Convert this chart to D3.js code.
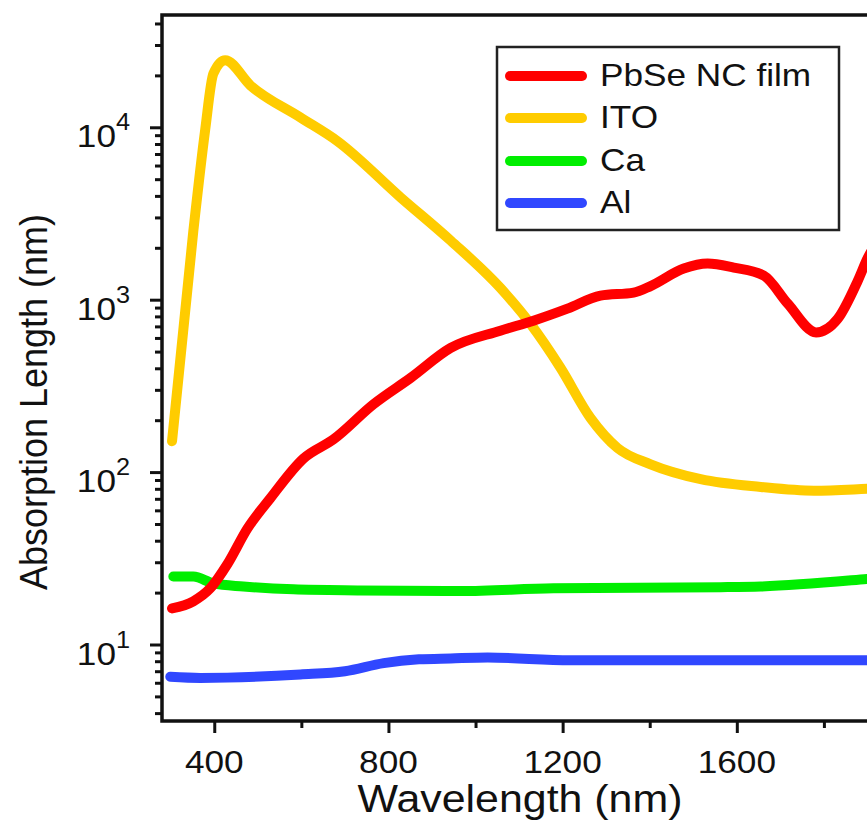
<!DOCTYPE html>
<html><head><meta charset="utf-8">
<script src="https://cdn.jsdelivr.net/npm/d3@7"></script>
<style>
html,body{margin:0;padding:0;background:#fff;overflow:hidden;}
text{font-family:"Liberation Sans",Arial,sans-serif;fill:#111;}
</style></head>
<body><svg id="c" width="867" height="821"></svg>
<script>
// ---- data ----
const seriesNames = ["PbSe NC film", "ITO", "Ca", "Al"];
const seriesColors = ["#ff0000", "#ffcc00", "#00ee00", "#3047ff"];

const pbseWl  = [303, 352, 391, 430, 476, 529, 605, 674, 766, 851, 943, 1057, 1133, 1211, 1287, 1363, 1402, 1478, 1533, 1593, 1662, 1717, 1782, 1832, 1878, 1901, 1950];
const pbseVal = [16.2, 17.8, 21.2, 29.2, 47, 70.7, 120, 155, 248, 352, 525, 661, 755, 887, 1055, 1100, 1200, 1516, 1620, 1535, 1380, 948, 646, 776, 1290, 1755, 2600];

const itoWl  = [303, 352, 379, 398, 425, 483, 598, 683, 828, 943, 1057, 1126, 1195, 1264, 1326, 1402, 1517, 1655, 1777, 1901, 1950];
const itoVal = [151, 2510, 9600, 20500, 24500, 17500, 11400, 8300, 3920, 2200, 1170, 725, 403, 206, 138, 111, 91, 82, 78, 80, 81];

const caWl  = [306, 352, 398, 467, 582, 736, 966, 1179, 1563, 1655, 1901, 1950];
const caVal = [24.8, 24.8, 22.6, 21.7, 20.9, 20.6, 20.4, 21.2, 21.5, 21.7, 24.0, 24.6];

const alWl  = [299, 368, 598, 700, 789, 870, 943, 1028, 1218, 1563, 1901, 1950];
const alVal = [6.5, 6.4, 6.7, 7.0, 7.8, 8.2, 8.3, 8.4, 8.1, 8.1, 8.1, 8.1];

const xMajorTicks = [400, 800, 1200, 1600, 2000];
const xLabelTicks = [400, 800, 1200, 1600];
const xMinorTicks = [600, 1000, 1400, 1800];
const yMajorTicks = [10, 100, 1000, 10000];
const yMajorExp = ["1", "2", "3", "4"];
const yMinorTicks = [4,5,6,7,8,9,20,30,40,50,60,70,80,90,200,300,400,500,600,700,800,900,2000,3000,4000,5000,6000,7000,8000,9000,20000,30000,40000];

const xTitle = "Wavelength (nm)";
const yTitle = "Absorption Length (nm)";

// ---- layout ----
const svg = d3.select("#c");
const L = 162, T = 15, B = 721, R = 911;
const x = d3.scaleLinear().domain([280, 2000]).range([L, R]);
const y = d3.scaleLog().domain([3.6, 44800]).range([B, T]);

const series = [
  {wl: pbseWl, v: pbseVal},
  {wl: itoWl, v: itoVal},
  {wl: caWl, v: caVal},
  {wl: alWl, v: alVal}
];

svg.append("defs").append("clipPath").attr("id","clip")
  .append("rect").attr("x", L).attr("y", T).attr("width", R-L).attr("height", B-T);

const line = d3.line().x(d => x(d[0])).y(d => y(d[1])).curve(d3.curveMonotoneX);
const plot = svg.append("g").attr("clip-path","url(#clip)");
[3,2,1,0].forEach(i => {
  const s = series[i];
  plot.append("path")
    .datum(s.wl.map((w,k) => [w, s.v[k]]))
    .attr("d", line)
    .attr("fill","none")
    .attr("stroke", seriesColors[i])
    .attr("stroke-width", 10)
    .attr("stroke-linecap","round")
    .attr("stroke-linejoin","round");
});

function styleAxis(g){
  g.select(".domain").remove();
  g.selectAll("line").attr("stroke","#111").attr("stroke-width",3);
  g.selectAll("text").remove();
}
svg.append("g").attr("transform",`translate(0,${B})`)
  .call(d3.axisBottom(x).tickValues(xMajorTicks).tickSize(12).tickFormat("")).call(styleAxis);
svg.append("g").attr("transform",`translate(0,${B})`)
  .call(d3.axisBottom(x).tickValues(xMinorTicks).tickSize(7).tickFormat("")).call(styleAxis);
svg.append("g").attr("transform",`translate(${L},0)`)
  .call(d3.axisLeft(y).tickValues(yMajorTicks).tickSize(12).tickFormat("")).call(styleAxis);
svg.append("g").attr("transform",`translate(${L},0)`)
  .call(d3.axisLeft(y).tickValues(yMinorTicks).tickSize(7).tickFormat("")).call(styleAxis);

svg.append("rect").attr("x", L).attr("y", T).attr("width", R-L).attr("height", B-T)
  .attr("fill","none").attr("stroke","#111").attr("stroke-width",3.5);

xLabelTicks.forEach(t => {
  svg.append("text").attr("transform",`translate(${x(t)},773) scale(1.1,1)`)
    .attr("text-anchor","middle").attr("font-size",32).text(t);
});
yMajorTicks.forEach((t,i) => {
  svg.append("text").attr("transform",`translate(116,${y(t)+20}) scale(1.1,1)`)
    .attr("text-anchor","end").attr("font-size",32).text("10");
  svg.append("text").attr("transform",`translate(116,${y(t)+3}) scale(1.1,1)`)
    .attr("text-anchor","start").attr("font-size",23).text(yMajorExp[i]);
});

svg.append("text").attr("transform",`translate(520,812) scale(1.1,1)`)
  .attr("text-anchor","middle").attr("font-size",39).text(xTitle);
svg.append("text").attr("transform",`translate(47,402) scale(1.1,1) rotate(-90)`)
  .attr("text-anchor","middle").attr("font-size",36).text(yTitle);

svg.append("rect").attr("x",497).attr("y",47).attr("width",342).attr("height",183)
  .attr("fill","#fff").attr("stroke","#222").attr("stroke-width",2.5);
const rowsY = [76, 118, 161, 203];
seriesNames.forEach((n,i) => {
  svg.append("line").attr("x1",510).attr("x2",582).attr("y1",rowsY[i]).attr("y2",rowsY[i])
    .attr("stroke",seriesColors[i]).attr("stroke-width",10).attr("stroke-linecap","round");
  svg.append("text").attr("transform",`translate(600,${rowsY[i]+10}) scale(1.1,1)`)
    .attr("font-size",32).text(n);
});
</script></body></html>
